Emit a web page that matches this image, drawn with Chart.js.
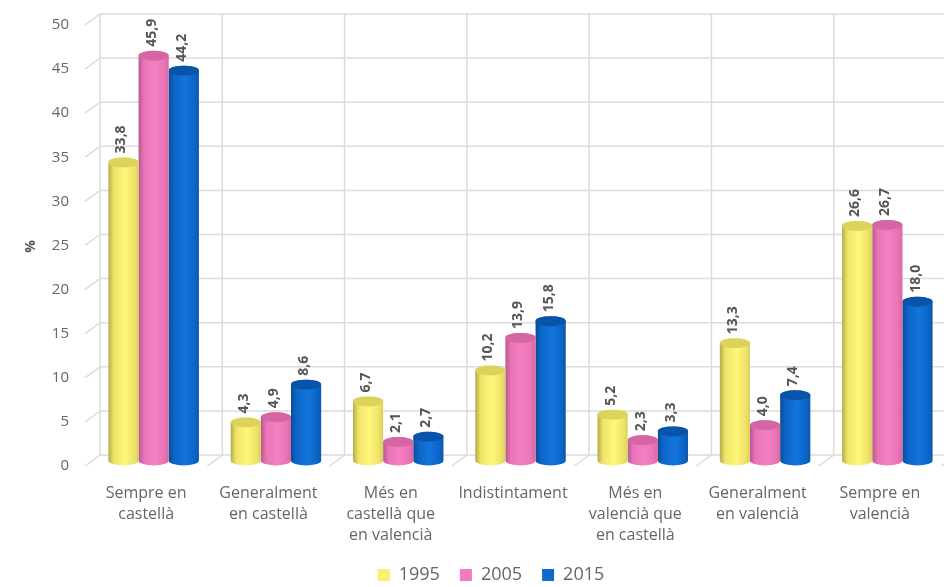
<!DOCTYPE html>
<html>
<head>
<meta charset="utf-8">
<script src="https://cdn.jsdelivr.net/npm/chart.js@4.4.1/dist/chart.umd.min.js"></script>
<style>
  html, body { margin: 0; padding: 0; background: #ffffff; }
  #wrap { width: 944px; height: 587px; }
</style>
</head>
<body>
<div id="wrap"><canvas id="c" width="944" height="587"></canvas></div>
<script>
// Categories (multi-line labels) and the three survey years
const categories = [
  ['Sempre en', 'castellà'],
  ['Generalment', 'en castellà'],
  ['Més en', 'castellà que', 'en valencià'],
  ['Indistintament'],
  ['Més en', 'valencià que', 'en castellà'],
  ['Generalment', 'en valencià'],
  ['Sempre en', 'valencià']
];
const years = ['1995', '2005', '2015'];
const values1995 = [33.8, 4.3, 6.7, 10.2, 5.2, 13.3, 26.6];
const values2005 = [45.9, 4.9, 2.1, 13.9, 2.3, 4.0, 26.7];
const values2015 = [44.2, 8.6, 2.7, 15.8, 3.3, 7.4, 18.0];
const yTicks = { min: 0, max: 50, step: 5 };

// Depth of the pseudo-3D box and where the cylinders sit inside it
const DX = 15, DY = -11;
const BAR_DX = 7.5, BAR_DY = -5.5;
const RY = 5;

const shades = [
  { edge: '#b3ab48', mid: '#efe469', light: '#fff67a', edge2: '#d9d05e', top: '#ddd35c' },
  { edge: '#b9578f', mid: '#e974b6', light: '#f47fc2', edge2: '#d767a6', top: '#d566a4' },
  { edge: '#0a4c96', mid: '#0c66c8', light: '#1474db', edge2: '#0b57ad', top: '#0954ab' }
];

function fmt(v) { return v.toFixed(1).replace('.', ','); }

function drawCylinder(ctx, cx, top, base, w, s) {
  const l = cx - w / 2, r = cx + w / 2;
  const g = ctx.createLinearGradient(l, 0, r, 0);
  g.addColorStop(0, s.edge);
  g.addColorStop(0.18, s.mid);
  g.addColorStop(0.55, s.light);
  g.addColorStop(0.85, s.mid);
  g.addColorStop(1, s.edge2);
  ctx.beginPath();
  ctx.moveTo(l, top);
  ctx.lineTo(l, base);
  ctx.ellipse(cx, base, w / 2, RY, 0, Math.PI, 0, true);
  ctx.lineTo(r, top);
  ctx.ellipse(cx, top, w / 2, RY, 0, 0, Math.PI, true);
  ctx.closePath();
  ctx.fillStyle = g;
  ctx.fill();
  ctx.beginPath();
  ctx.ellipse(cx, top, w / 2, RY, 0, 0, Math.PI * 2);
  ctx.fillStyle = s.top;
  ctx.fill();
}

// Back wall, floor diagonals and grid lines
const wallPlugin = {
  id: 'wall3d',
  beforeDatasetsDraw(chart) {
    const { ctx, chartArea: a, scales: { y } } = chart;
    ctx.save();
    ctx.strokeStyle = '#dcdcdc';
    ctx.lineWidth = 1.5;
    ctx.beginPath();
    y.ticks.forEach(t => {
      const py = y.getPixelForValue(t.value);
      ctx.moveTo(a.left, py);
      ctx.lineTo(a.left + DX, py + DY);
      ctx.lineTo(a.right + DX, py + DY);
    });
    const n = categories.length;
    const cw = (a.right - a.left) / n;
    for (let i = 0; i <= n; i++) {
      const px = a.left + i * cw;
      ctx.moveTo(px, a.bottom);
      ctx.lineTo(px + DX, a.bottom + DY);
      ctx.lineTo(px + DX, a.top + DY);
    }
    ctx.stroke();
    // axis title
    ctx.fillStyle = '#555';
    ctx.font = 'bold 14px "Open Sans"';
    ctx.translate(31, (a.top + a.bottom) / 2 + 1);
    ctx.rotate(-Math.PI / 2);
    ctx.textAlign = 'center';
    ctx.textBaseline = 'middle';
    ctx.fillText('%', 0, 0);
    ctx.restore();
  }
};

// Cylinders drawn from each bar element's own geometry
const cylPlugin = {
  id: 'cylinders',
  beforeDatasetDraw(chart, args) {
    const ctx = chart.ctx;
    const s = shades[args.index];
    ctx.save();
    args.meta.data.forEach(el => {
      const p = el.getProps(['x', 'y', 'base', 'width'], true);
      drawCylinder(ctx, p.x + BAR_DX, p.y + BAR_DY, p.base + BAR_DY, p.width, s);
    });
    ctx.restore();
    return false;
  },
  afterDatasetsDraw(chart) {
    const ctx = chart.ctx;
    ctx.save();
    ctx.font = 'bold 14px "Open Sans"';
    ctx.fillStyle = '#555';
    ctx.textAlign = 'left';
    ctx.textBaseline = 'middle';
    chart.data.datasets.forEach((ds, i) => {
      const meta = chart.getDatasetMeta(i);
      meta.data.forEach((el, j) => {
        const p = el.getProps(['x', 'y'], true);
        ctx.save();
        ctx.translate(p.x + BAR_DX - 2, p.y + BAR_DY - RY - 4);
        ctx.rotate(-Math.PI / 2);
        ctx.fillText(fmt(ds.data[j]), 0, 0);
        ctx.restore();
      });
    });
    ctx.restore();
  }
};

new Chart(document.getElementById('c'), {
  type: 'bar',
  data: {
    labels: categories,
    datasets: [
      { label: years[0], data: values1995, backgroundColor: '#fbef6f' },
      { label: years[1], data: values2005, backgroundColor: '#f07cbf' },
      { label: years[2], data: values2015, backgroundColor: '#0f6ad0' }
    ]
  },
  options: {
    responsive: false,
    animation: false,
    layout: { padding: { left: 41, right: 3, top: 23, bottom: -7 } },
    datasets: { bar: { categoryPercentage: 0.74, barPercentage: 1.0 } },
    scales: {
      x: {
        grid: { display: false, drawTicks: false },
        border: { display: false },
        ticks: {
          color: '#666',
          font: { family: '"Open Sans"', size: 16, lineHeight: 1.3 },
          padding: 17,
          maxRotation: 0,
          autoSkip: false
        },
        afterFit(scale) { scale.height = 80; }
      },
      y: {
        min: yTicks.min,
        max: yTicks.max,
        grid: { display: false, drawTicks: false },
        border: { display: false },
        ticks: {
          stepSize: yTicks.step,
          color: '#666',
          font: { family: '"Open Sans"', size: 15 },
          padding: 16
        },
        afterFit(scale) { scale.width = 44; }
      }
    },
    plugins: {
      legend: {
        position: 'bottom',
        labels: {
          boxWidth: 12,
          boxHeight: 12,
          padding: 20,
          color: '#666',
          font: { family: '"Open Sans"', size: 18 }
        }
      },
      tooltip: { enabled: false }
    }
  },
  plugins: [wallPlugin, cylPlugin]
});
</script>
</body>
</html>
